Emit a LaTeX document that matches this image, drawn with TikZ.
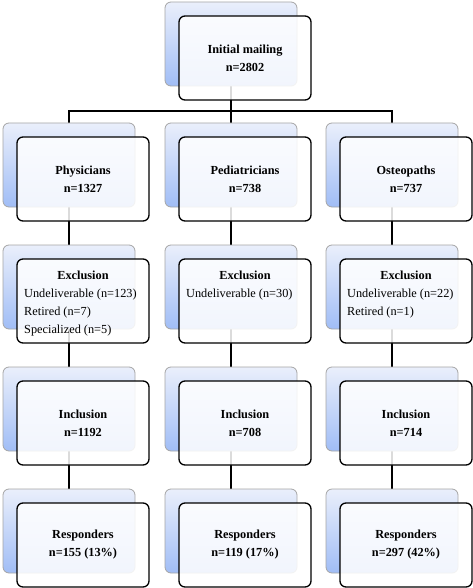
\documentclass[tikz,border=0pt]{standalone}
\usepackage{fontspec}
\setmainfont{Liberation Serif}
\pgfdeclarelayer{lines}
\pgfsetlayers{lines,main}
\definecolor{bgtop}{RGB}{234,239,251}
\definecolor{bgbot}{RGB}{160,189,246}
\definecolor{bgedge}{RGB}{165,165,165}
\tikzset{
  backbox/.style={rectangle, rounded corners=6pt, draw=bgedge, line width=0.8pt,
    top color=bgtop, bottom color=bgbot, minimum width=132pt, minimum height=84pt,
    anchor=north west, inner sep=0pt, outer sep=0pt},
  frontbox/.style={rectangle, rounded corners=6pt, draw=black, line width=1.3pt,
    fill=white, fill opacity=0.86, text opacity=1, minimum width=132pt, minimum height=84pt,
    anchor=north west, align=center, inner sep=0pt, outer sep=0pt,
    font=\bfseries\fontsize{12.3}{18}\selectfont},
  conn/.style={line width=2pt, black},
  exhead/.style={font=\bfseries\fontsize{12.3}{18}\selectfont, anchor=base, inner sep=0pt},
  exline/.style={font=\fontsize{12.3}{18}\selectfont, anchor=base west, inner sep=0pt},
}
\newcommand\mkbox[4]{%
  \node[backbox] (b#1) at (#2,#3) {};
  \node[frontbox] (f#1) at ([shift={(14,14)}]b#1.north west) {#4};
}
\begin{document}
\begin{tikzpicture}[x=1pt,y=-1pt]
\useasboundingbox (0,0) rectangle (473,588);
% top
\mkbox{0}{165}{2}{Initial mailing\\n=2802}
% row 1
\mkbox{11}{3}{123}{Physicians\\n=1327}
\mkbox{12}{165}{123}{Pediatricians\\n=738}
\mkbox{13}{326}{123}{Osteopaths\\n=737}
% row 2
\mkbox{21}{3}{245}{}
\mkbox{22}{165}{245}{}
\mkbox{23}{326}{245}{}
% row 3
\mkbox{31}{3}{367}{Inclusion\\n=1192}
\mkbox{32}{165}{367}{Inclusion\\n=708}
\mkbox{33}{326}{367}{Inclusion\\n=714}
% row 4
\mkbox{41}{3}{489}{Responders\\n=155 (13\%)}
\mkbox{42}{165}{489}{Responders\\n=119 (17\%)}
\mkbox{43}{326}{489}{Responders\\n=297 (42\%)}
% exclusion texts
\node[exhead] (h1) at ([shift={(0,20)}]f21.north) {Exclusion};
\node[exline] (l1a) at ([shift={(7,38)}]f21.north west) {Undeliverable (n=123)};
\node[exline] (l1b) at ([shift={(7,56)}]f21.north west) {Retired (n=7)};
\node[exline] (l1c) at ([shift={(7,74)}]f21.north west) {Specialized (n=5)};
\node[exhead] (h2) at ([shift={(0,20)}]f22.north) {Exclusion};
\node[exline] (l2a) at ([shift={(7,38)}]f22.north west) {Undeliverable (n=30)};
\node[exhead] (h3) at ([shift={(0,20)}]f23.north) {Exclusion};
\node[exline] (l3a) at ([shift={(7,38)}]f23.north west) {Undeliverable (n=22)};
\node[exline] (l3b) at ([shift={(7,56)}]f23.north west) {Retired (n=1)};
% connectors
\begin{pgfonlayer}{lines}
\coordinate (split) at (231,111);
\draw[conn] (b0.center) -- (split);
\draw[conn] (b11.north) |- (split) -| (b13.north);
\draw[conn] (split) -- (b12.north);
\foreach \r/\s in {1/2,2/3,3/4}{
  \foreach \c in {1,2,3}{
    \draw[conn] (b\r\c.center) -- (b\s\c.north);
  }
}
\end{pgfonlayer}
\end{tikzpicture}
\end{document}
